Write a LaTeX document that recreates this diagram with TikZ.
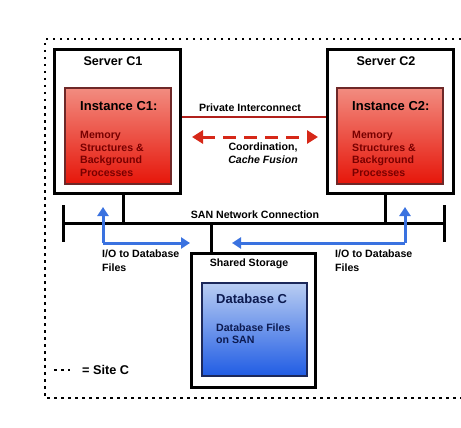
\documentclass[tikz,border=0pt]{standalone}
\usepackage{fontspec}
\setmainfont{Liberation Sans}
\usetikzlibrary{arrows.meta}
\definecolor{insttop}{RGB}{242,140,128}
\definecolor{instbottom}{RGB}{230,22,10}
\definecolor{instborder}{RGB}{110,40,40}
\definecolor{insttext}{RGB}{120,0,0}
\definecolor{dbtop}{RGB}{185,205,242}
\definecolor{dbbottom}{RGB}{32,92,228}
\definecolor{dbborder}{RGB}{28,40,90}
\definecolor{dbtext}{RGB}{12,26,80}
\definecolor{linkred}{RGB}{176,32,28}
\definecolor{fusionred}{RGB}{214,40,24}
\definecolor{ioblue}{RGB}{58,114,224}
\begin{document}
\begin{tikzpicture}
[x=1pt, y=-1pt, font=\bfseries,
  boxdecorate/.style={draw, line width=3pt, inner sep=0pt},
  instdecorate/.style={draw=instborder, line width=2pt, inner sep=0pt,
    top color=insttop, bottom color=instbottom,
    minimum width=106pt, minimum height=96pt},
  plaintext/.style={inner sep=0pt, font=\bfseries\fontsize{10.6}{12.5}\selectfont},
  bigtext/.style={inner sep=0pt, font=\bfseries\fontsize{13}{15}\selectfont},
  busdecorate/.style={-, line width=3pt},
  iodecorate/.style={ioblue, line width=3pt, -{Triangle[length=9pt,width=11pt]}},
  sitedots/.style={line width=2.5pt, dash pattern=on 2.5pt off 4.5pt}]
\useasboundingbox (0,0) rectangle (461,428);
%% site border
\draw[sitedots] (475,39) -- (45,39) -- (45,398) -- (475,398);
%% servers and instances
\foreach \nodename/\x/\xi/\name in {1/117.5/118/C1, 2/390.5/390/C2}
{
  \node (s\nodename) at (\x,121.5) [boxdecorate, minimum width=126pt,
    minimum height=144pt] {};
  \node [bigtext, font=\bfseries\fontsize{12.6}{15}\selectfont]
    at (\x-4.5,61) {Server \name};
  \node (i\nodename) at (\xi,136) [instdecorate] {};
  \node [bigtext, anchor=west] at (\xi-38,106) {Instance \name:};
  \node [plaintext, insttext, anchor=base west, align=left]
    at (\xi-38,176) {Memory\\Structures \&\\Background\\Processes};
}
%% shared storage
\node (st) at (253.5,320.5) [boxdecorate, minimum width=124pt,
  minimum height=134pt] {};
\node [plaintext] at (249,264) {Shared Storage};
\node (db) at (254.5,329.5) [draw=dbborder, line width=2pt, inner sep=0pt,
  top color=dbtop, bottom color=dbbottom,
  minimum width=105pt, minimum height=93pt] {};
\node [bigtext, dbtext, anchor=west] at (216,299) {Database C};
\node [plaintext, dbtext, anchor=base west, align=left] at (216,343.5)
  {Database Files\\on SAN};
%% private interconnect
\draw [linkred, line width=2.5pt] ([yshift=4.5pt]s1.east) -- ([yshift=4.5pt]s2.west);
\node [plaintext] at (250,108) {Private Interconnect};
\coordinate (fusionL) at (192,137);
\coordinate (fusionR) at (318,137);
\draw [fusionred, line width=3pt, dash pattern=on 13pt off 8pt,
  {Triangle[length=11pt,width=13pt]}-{Triangle[length=11pt,width=13pt]}]
  (fusionL) -- (fusionR);
\node [plaintext, align=center, font=\bfseries\fontsize{10.6}{13}\selectfont]
  at (263,153.5) {Coordination,\\\textit{Cache Fusion}};
%% SAN network
\coordinate (sanL) at (63,223);
\coordinate (sanR) at (444,223);
\draw [busdecorate] (sanL) -- (sanR);
\draw [busdecorate] ([yshift=18pt]sanL) -- ([yshift=-19pt]sanL);
\draw [busdecorate] ([yshift=18pt]sanR) -- ([yshift=-19pt]sanR);
\draw [busdecorate] ([xshift=5.5pt]s1.south) -- ([xshift=5.5pt]s1.south |- sanL);
\draw [busdecorate] ([xshift=-5.5pt]s2.south) -- ([xshift=-5.5pt]s2.south |- sanL);
\draw [busdecorate] ([xshift=-42.5pt]st.north) -- ([xshift=-42.5pt]st.north |- sanL);
\node [plaintext] at (255,215) {SAN Network Connection};
%% I/O arrows
\coordinate (ioL) at (103,243);
\coordinate (ioR) at (405,243);
\draw [iodecorate] (ioL) -- (103,207);
\draw [iodecorate] (ioL) -- (190,243);
\draw [iodecorate] (ioR) -- (405,207);
\draw [iodecorate] (ioR) -- (232,243);
\foreach \x in {102, 335}
{
  \node [plaintext, anchor=base west, align=left,
    font=\bfseries\fontsize{10.6}{14}\selectfont]
    at (\x,271) {I/O to Database\\Files};
}
%% legend
\draw[sitedots] (54,370) -- (70,370);
\node [bigtext, anchor=west, font=\bfseries\fontsize{12.7}{15}\selectfont]
  at (82,370) {= Site C};
\end{tikzpicture}
\end{document}
